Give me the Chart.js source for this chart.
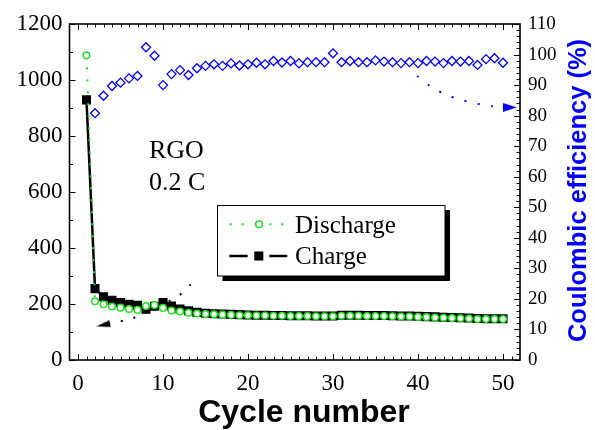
<!doctype html>
<html lang="en">
<head>
  <meta charset="utf-8">
  <title>RGO cycling</title>
  <style>
    html, body { margin: 0; padding: 0; background: #fff; }
    #chart { display: block; }
  </style>
</head>
<body>
  <canvas id="chart" width="595" height="430"></canvas>

  <script src="https://cdn.jsdelivr.net/npm/chart.js@4/dist/chart.umd.min.js"></script>
  <script>
  // values
  const cycles = [1,2,3,4,5,6,7,8,9,10,11,12,13,14,15,16,17,18,19,20,21,22,23,24,25,
                  26,27,28,29,30,31,32,33,34,35,36,37,38,39,40,41,42,43,44,45,46,47,48,49,50];
  const discharge = [1088,210,199,191,187,182,179,193,196,186,177,173,169,166,164,163,162,161,160,160,
                     159,159,158,158,157,157,157,156,156,156,158,158,158,157,157,157,156,155,155,154,
                     153,152,151,150,149,148,146,146,146,146];
  const charge = [929,255,226,213,205,199,195,181,192,205,193,182,176,170,167,165,164,163,162,161,
                  160,160,159,159,158,158,158,157,157,157,160,160,160,159,159,159,158,157,157,156,
                  155,154,153,152,151,150,148,147,147,147];
  const efficiency = [null,80.8,86.5,89.7,90.8,92.2,93.0,102.4,99.6,90.0,93.6,94.9,93.3,95.5,96.3,96.8,96.3,97.1,96.4,96.8,
                      97.3,96.8,97.9,97.4,97.9,97.1,97.5,97.5,97.5,100.4,97.5,97.9,97.5,97.5,98.1,97.7,97.5,97.2,97.5,97.2,
                      97.9,97.7,97.2,97.9,97.7,97.9,96.6,98.5,98.8,97.3];

  // the two dotted arrows (cycle, value)
  const chargeArrowX = [13.26, 11.88, 7.46, 6.0, 4.52, 2.96];
  const chargeArrowY = [270, 230, 161, 145, 135, 125];
  const effArrowX = [39.9, 41.4, 42.9, 44.3, 45.8, 47.3, 48.75, 50.8];
  const effArrowY = [93.0, 89.7, 87.4, 85.8, 84.6, 83.7, 83.1, 82.7];

  const xTicks = [0, 10, 20, 30, 40, 50];

  const GREEN = '#1fe01f';
  const BLUE = '#0000ff';
  const SERIF = "'Liberation Serif', 'Times New Roman', serif";
  const SANS = "'Liberation Sans', Arial, sans-serif";

  function pairs(xs, ys) {
    return xs.map((x, i) => ({x: x, y: ys[i]}));
  }

  function arrowHead(color, w, h) {
    let c = document.createElement('canvas');
    c.width = w; c.height = h;
    let g = c.getContext('2d');
    g.fillStyle = color;
    g.beginPath();
    g.moveTo(0, 0);
    g.lineTo(w, h / 2);
    g.lineTo(0, h);
    g.closePath();
    g.fill();
    return c;
  }

  const blueHead = arrowHead(BLUE, 14, 9);
  const blackHead = arrowHead('#000', 14, 7);

  function lastOnly(n, a, b) {
    return ctx => ctx.dataIndex === n - 1 ? a : b;
  }

  const decor = {
    id: 'decor',
    beforeDraw(chart) {
      let ctx = chart.ctx;
      ctx.save();
      ctx.fillStyle = '#fff';
      ctx.fillRect(0, 0, chart.width, chart.height);
      ctx.restore();
    },
    afterDraw(chart) {
      let ctx = chart.ctx;
      let a = chart.chartArea;
      let sx = chart.scales.x, sy = chart.scales.y, sy1 = chart.scales.y1;
      ctx.save();

      // ticks pointing inward
      ctx.strokeStyle = '#000';
      ctx.lineWidth = 1;
      ctx.beginPath();
      for (let v = 0; v <= 51; v++) {
        let px = Math.round(sx.getPixelForValue(v)) + 0.5;
        let len = v % 10 === 0 ? 6 : 3.5;
        ctx.moveTo(px, a.bottom); ctx.lineTo(px, a.bottom - len);
        ctx.moveTo(px, a.top); ctx.lineTo(px, a.top + len);
      }
      for (let v = 0; v <= 1200; v += 100) {
        let py = Math.round(sy.getPixelForValue(v)) + 0.5;
        let len = v % 200 === 0 ? 6 : 3.5;
        ctx.moveTo(a.left, py); ctx.lineTo(a.left + len, py);
      }
      for (let v = 0; v <= 110; v += 2) {
        let py = Math.round(sy1.getPixelForValue(v)) + 0.5;
        let len = v % 10 === 0 ? 6 : 3.5;
        ctx.moveTo(a.right, py); ctx.lineTo(a.right - len, py);
      }
      ctx.stroke();

      // frame
      ctx.lineWidth = 1.6;
      ctx.strokeRect(a.left, a.top, a.right - a.left, a.bottom - a.top);

      // sample label
      ctx.fillStyle = '#000';
      ctx.font = '26px ' + SERIF;
      ctx.textAlign = 'left';
      ctx.textBaseline = 'alphabetic';
      ctx.fillText('RGO', 149, 158);
      ctx.fillText('0.2 C', 149, 190);

      // legend box with shadow
      ctx.fillStyle = '#000';
      ctx.fillRect(222.5, 210, 227.5, 71);
      ctx.fillStyle = '#fff';
      ctx.fillRect(217.5, 205, 227.5, 71);
      ctx.lineWidth = 1;
      ctx.strokeStyle = '#000';
      ctx.strokeRect(217.5, 205.5, 227.5, 70.5);

      // discharge sample
      ctx.fillStyle = GREEN;
      [230.7, 242.7, 270.5, 282.3].forEach(x => ctx.fillRect(x - 1, 223.3, 2, 2));
      ctx.beginPath();
      ctx.arc(259, 224.3, 3.3, 0, Math.PI * 2);
      ctx.fillStyle = '#fff';
      ctx.fill();
      ctx.strokeStyle = GREEN;
      ctx.lineWidth = 1.5;
      ctx.stroke();

      // charge sample
      ctx.strokeStyle = '#000';
      ctx.lineWidth = 2.5;
      ctx.beginPath();
      ctx.moveTo(229.3, 256); ctx.lineTo(247.7, 256);
      ctx.moveTo(269.3, 256); ctx.lineTo(287.3, 256);
      ctx.stroke();
      ctx.fillStyle = '#000';
      ctx.fillRect(254.3, 251.5, 9, 9);

      ctx.font = '25px ' + SERIF;
      ctx.fillText('Discharge', 295, 233);
      ctx.fillText('Charge', 295, 264);

      // axis titles
      ctx.font = 'bold 32px ' + SANS;
      ctx.textAlign = 'center';
      ctx.fillText('Cycle number', 304, 421.5);

      ctx.translate(585.5, 190.5);
      ctx.rotate(-Math.PI / 2);
      ctx.fillStyle = BLUE;
      ctx.font = 'bold 25.5px ' + SANS;
      ctx.fillText('Coulombic efficiency (%)', 0, 0);

      ctx.restore();
    }
  };

  function plot() {
    let canvas = document.getElementById('chart');
    let ctx = canvas.getContext('2d');

    new Chart(ctx, {
      type: 'line',
      data: {
        datasets: [
          {
            label: 'Discharge',
            data: pairs(cycles, discharge),
            yAxisID: 'y',
            borderColor: GREEN,
            borderWidth: 2,
            borderDash: [2, 10],
            pointStyle: 'circle',
            pointRadius: 3.3,
            pointBorderWidth: 1.5,
            pointBorderColor: GREEN,
            pointBackgroundColor: '#fff',
            tension: 0,
          },
          {
            label: 'Charge',
            data: pairs(cycles, charge),
            yAxisID: 'y',
            borderColor: '#000',
            borderWidth: 2.5,
            pointStyle: 'rect',
            pointRadius: 6.4,
            pointBorderWidth: 0,
            pointBackgroundColor: '#000',
            tension: 0,
          },
          {
            label: 'Coulombic efficiency',
            data: pairs(cycles, efficiency),
            yAxisID: 'y1',
            showLine: false,
            pointStyle: 'rectRot',
            pointRadius: 4.5,
            pointBorderWidth: 1.3,
            pointBorderColor: BLUE,
            pointBackgroundColor: '#fff',
          },
          {
            label: 'arrow-charge',
            data: pairs(chargeArrowX, chargeArrowY),
            yAxisID: 'y',
            borderColor: '#000',
            borderWidth: 2,
            borderDash: [2, 11],
            tension: 0.2,
            pointStyle: lastOnly(chargeArrowX.length, blackHead, 'circle'),
            pointRadius: lastOnly(chargeArrowX.length, 7, 0),
            pointRotation: 169,
          },
          {
            label: 'arrow-eff',
            data: pairs(effArrowX, effArrowY),
            yAxisID: 'y1',
            borderColor: BLUE,
            borderWidth: 2,
            borderDash: [2, 11.5],
            tension: 0.2,
            pointStyle: lastOnly(effArrowX.length, blueHead, 'circle'),
            pointRadius: lastOnly(effArrowX.length, 7, 0),
            pointRotation: 0,
          },
        ],
      },
      options: {
        responsive: false,
        animation: false,
        devicePixelRatio: 1,
        layout: { padding: { top: 24, left: 0, right: 0, bottom: 0 } },
        plugins: {
          legend: { display: false },
          tooltip: { enabled: false },
        },
        scales: {
          x: {
            type: 'linear',
            min: -1,
            max: 52,
            afterBuildTicks: s => { s.ticks = xTicks.map(v => ({value: v})); },
            afterFit: s => { s.height = 70; },
            grid: { display: false, drawTicks: false },
            border: { display: false },
            ticks: { color: '#000', padding: 10, font: { family: SERIF, size: 23 }, callback: v => String(v) },
          },
          y: {
            position: 'left',
            min: 0,
            max: 1200,
            afterFit: s => { s.width = 69.5; },
            grid: { display: false, drawTicks: false },
            border: { display: false },
            ticks: { stepSize: 200, color: '#000', padding: 7, font: { family: SERIF, size: 23 }, callback: v => String(v) },
          },
          y1: {
            position: 'right',
            min: 0,
            max: 110,
            afterFit: s => { s.width = 75; },
            grid: { display: false, drawTicks: false },
            border: { display: false },
            ticks: { stepSize: 10, color: '#000', padding: 8, font: { family: SERIF, size: 19 }, callback: v => String(v) },
          },
        },
      },
      plugins: [decor],
    });
  }

  plot();
  </script>
</body>
</html>
